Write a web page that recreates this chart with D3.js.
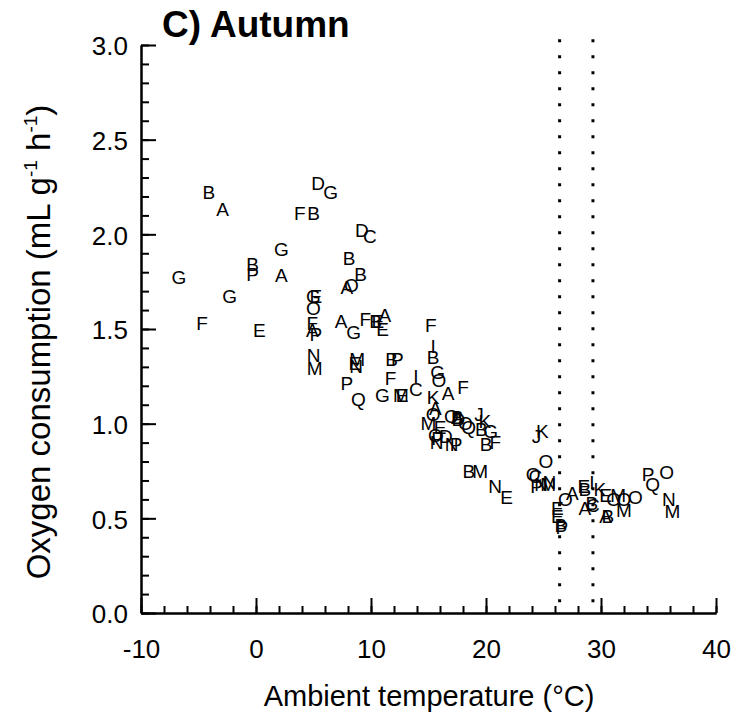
<!DOCTYPE html>
<head>
    <meta charset="utf-8">
    <script src="https://d3js.org/d3.v7.min.js"></script>
    <style>
        body { margin: 0; background: #fff; }
        text { font-family: "Liberation Sans", Arial, Helvetica, sans-serif; }
    </style>
</head>

<div id="my_dataviz"></div>

<script>
// individual animals (letters), ambient temperature (C) and oxygen consumption
var ptLabel = ["B","A","D","G","F","B","D","C","G","B","P","A","G","B","B","O","A","G","G","E",
               "O","F","E","F","A","P","A","G","F","B","E","A","E","F","N","M","M","N","E","B",
               "P","B","P","F","Q","G","M","E","C","I","G","O","K","A","F","A","O","M","E","O",
               "B","D","A","O","Q","J","K","B","G","F","B","O","D","N","P","N","P","B","M","N",
               "E","K","J","O","O","C","P","N","M","N","E","O","A","E","B","P","E","B","I","K",
               "E","A","B","C","O","M","O","M","A","B","O","P","Q","O","N","M","I"];
var ptTemp  = [-4.1,-2.9, 5.4, 6.5, 3.8, 5.0, 9.2, 9.9, 2.2,-0.3,-0.3, 2.2,-6.7, 8.1, 9.1, 8.3, 7.9,-2.3, 5.0, 5.2,
                5.0,-4.7, 0.3, 4.9, 4.9, 5.2, 7.4, 8.5, 9.5,10.4,10.6,11.2,11.0,15.2, 5.0, 5.1, 8.8, 8.7, 8.6,11.8,
               12.3,15.4, 7.9,11.7, 8.9,11.0,12.6,12.7,13.9,13.9,15.8,15.9,15.4,16.7,18.0,15.6,15.4,15.0,16.0,17.0,
               17.5,17.6,17.5,18.2,18.5,19.4,19.9,19.6,20.4,20.8,20.0,15.6,16.5,15.7,15.8,17.0,17.4,18.5,19.5,20.8,
               21.8,24.9,24.4,25.2,24.1,24.3,24.4,24.8,25.4,25.5,26.2,26.9,27.5,26.2,26.5,26.6,28.5,28.6,29.2,29.9,
               30.4,28.6,29.2,29.3,31.1,31.5,32.0,32.0,30.4,30.6,33.0,34.1,34.5,35.7,35.9,36.2,15.4];
var ptRate  = [2.22,2.13,2.27,2.22,2.11,2.11,2.02,1.99,1.92,1.84,1.79,1.78,1.77,1.87,1.79,1.73,1.72,1.67,1.67,1.67,
               1.61,1.53,1.49,1.53,1.49,1.47,1.54,1.48,1.55,1.54,1.54,1.57,1.50,1.52,1.36,1.29,1.34,1.30,1.32,1.34,
               1.34,1.35,1.21,1.24,1.13,1.15,1.15,1.15,1.18,1.25,1.27,1.23,1.14,1.16,1.19,1.08,1.05,1.00,0.98,1.04,
               1.03,1.02,1.03,1.00,0.98,1.05,1.01,0.97,0.96,0.90,0.89,0.94,0.93,0.90,0.92,0.89,0.89,0.75,0.75,0.67,
               0.61,0.96,0.93,0.80,0.73,0.72,0.67,0.68,0.68,0.69,0.55,0.60,0.63,0.51,0.46,0.45,0.67,0.65,0.69,0.65,
               0.62,0.55,0.58,0.57,0.60,0.62,0.60,0.54,0.51,0.51,0.61,0.73,0.68,0.74,0.60,0.535,1.41];

// thermoneutral zone limits (dotted lines)
var tnzLimits = [26.4, 29.3];

var xMajor = [-10, 0, 10, 20, 30, 40];
var yMajor = [0, 0.5, 1, 1.5, 2, 2.5, 3];

var margin = {top: 45, right: 20, bottom: 115, left: 141},
    width = 736 - margin.left - margin.right,
    height = 728 - margin.top - margin.bottom;

var svg = d3.select("#my_dataviz")
    .append("svg")
    .attr("width", 736)
    .attr("height", 728)
    .append("g")
    .attr("transform", "translate(" + margin.left + "," + margin.top + ")");

var x = d3.scaleLinear().domain([-10, 40]).range([0, width]);
var y = d3.scaleLinear().domain([0, 3]).range([height, 0]);

// minor ticks (inward)
svg.append("g")
    .attr("transform", "translate(0," + height + ")")
    .call(d3.axisBottom(x).tickValues(d3.range(-10, 41, 2)).tickSize(-7).tickSizeOuter(0).tickFormat(""));
svg.append("g")
    .call(d3.axisLeft(y).tickValues(d3.range(0, 31).map(function(d) { return d / 10; })).tickSize(-8).tickSizeOuter(0).tickFormat(""));

// major ticks + labels
var xAxis = svg.append("g")
    .attr("transform", "translate(0," + height + ")")
    .call(d3.axisBottom(x).tickValues(xMajor).tickSize(-15).tickSizeOuter(0).tickPadding(27)
        .tickFormat(function(d) { return String(d); }));
var yAxis = svg.append("g")
    .call(d3.axisLeft(y).tickValues(yMajor).tickSize(-15).tickSizeOuter(0).tickPadding(13)
        .tickFormat(d3.format(".1f")));

svg.selectAll(".domain, .tick line").attr("stroke", "#000").attr("stroke-width", 2);
xAxis.selectAll("text").attr("font-size", 26).attr("fill", "#000");
yAxis.selectAll("text").attr("font-size", 26).attr("fill", "#000").attr("dy", "0.38em");

// dotted vertical lines
svg.selectAll("tnz")
    .data(tnzLimits)
    .enter()
    .append("line")
    .attr("x1", function(d) { return x(d); })
    .attr("x2", function(d) { return x(d); })
    .attr("y1", y(3.03))
    .attr("y2", y(0))
    .attr("stroke", "#000")
    .attr("stroke-width", 3)
    .attr("stroke-dasharray", "3,13");

// letters as markers
svg.selectAll("pts")
    .data(ptLabel)
    .enter()
    .append("text")
    .attr("x", function(d, i) { return x(ptTemp[i]); })
    .attr("y", function(d, i) { return y(ptRate[i]); })
    .attr("text-anchor", "middle")
    .attr("dominant-baseline", "central")
    .attr("font-size", 19)
    .attr("fill", "#000")
    .text(function(d) { return d; });

// title
svg.append("text")
    .attr("x", 162 - margin.left)
    .attr("y", 37 - margin.top)
    .attr("font-size", 37)
    .attr("font-weight", "bold")
    .text("C) Autumn");

// x label
svg.append("text")
    .attr("x", 429 - margin.left)
    .attr("y", 706 - margin.top)
    .attr("text-anchor", "middle")
    .attr("font-size", 29)
    .text("Ambient temperature (°C)");

// y label with superscripts
var yl = svg.append("text")
    .attr("transform", "translate(" + (50 - margin.left) + "," + (342 - margin.top) + ") rotate(-90)")
    .attr("text-anchor", "middle")
    .attr("font-size", 33);
yl.append("tspan").text("Oxygen consumption (mL g");
yl.append("tspan").attr("font-size", 19).attr("dy", -13).text("-1");
yl.append("tspan").attr("dy", 13).text(" h");
yl.append("tspan").attr("font-size", 19).attr("dy", -13).text("-1");
yl.append("tspan").attr("dy", 13).text(")");
</script>
